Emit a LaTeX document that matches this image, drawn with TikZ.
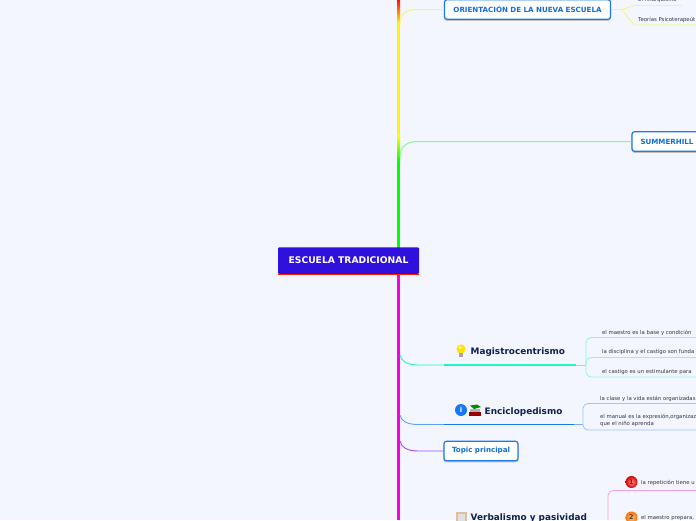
\documentclass[tikz,border=0pt]{standalone}
\usepackage{fontspec}
\setmainfont{DejaVu Sans}
\usetikzlibrary{calc}
\definecolor{bgc}{HTML}{F3F6FE}
\definecolor{rootc}{HTML}{3010DC}
\definecolor{boxb}{HTML}{1F7BE8}
\definecolor{boxt}{HTML}{0F6FD8}
\definecolor{navy}{HTML}{10204F}
\definecolor{leaf}{HTML}{333344}
\definecolor{yel}{HTML}{F2F87A}
\definecolor{grn}{HTML}{88FA88}
\definecolor{cya}{HTML}{22F5C4}
\definecolor{cyal}{HTML}{90F5E0}
\definecolor{blu}{HTML}{1878F0}
\definecolor{blul}{HTML}{A0C4FA}
\definecolor{pur}{HTML}{A050F5}
\definecolor{pnk}{HTML}{F8A0F0}
\definecolor{mag}{HTML}{F800DC}
\tikzset{
 x=1pt,y=-1pt,
 topicbox/.style={draw=boxb,line width=1.2pt,fill=white,rounded corners=2.5pt,text=boxt,font=\bfseries\fontsize{7.1}{8}\selectfont,inner sep=0pt,anchor=center,
   preaction={draw=black!25,line width=1.2pt,transform canvas={yshift=-1pt}}},
 leaftxt/.style={text=leaf,font=\fontsize{5.35}{7}\selectfont,anchor=west,inner sep=0pt,align=left},
 maintxt/.style={text=navy,font=\bfseries\fontsize{8.9}{10}\selectfont,anchor=west,inner sep=0pt},
 ball/.style={circle,minimum size=12pt,inner sep=0pt,text=black!75,font=\bfseries\fontsize{6.5}{7}\selectfont},
 thinl/.style={line width=.8pt},
}
\begin{document}
\begin{tikzpicture}
\useasboundingbox (0,0) rectangle (696,520);
\clip (0,0) rectangle (696,520);
\fill[bgc] (0,0) rectangle (696,520);

% trunk
\shade[top color=red!85!orange,bottom color=yellow!95!white] (397,0) rectangle (400.2,24);
\fill[yellow!95!white] (397,24) rectangle (400.2,135);
\shade[top color=yellow!95!white,bottom color=green] (397,135) rectangle (400.2,162);
\fill[green] (397,162) rectangle (400.2,250);
\fill[mag] (397,270) rectangle (400.2,520);

% nodes
\node[topicbox,minimum width=166pt,minimum height=19.5pt] (orient) at (527.5,9.5) {ORIENTACIÓN DE LA NUEVA ESCUELA};
\node[topicbox,minimum width=70pt,minimum height=19.5pt] (summer) at (667,141.5) {SUMMERHILL};
\node[topicbox,minimum width=74pt,minimum height=19.5pt] (topicp) at (481,451) {Topic principal};
\node[fill=rootc,text=white,font=\bfseries\fontsize{9.2}{10}\selectfont,rounded corners=1pt,minimum width=141pt,minimum height=26.5pt,inner sep=0pt] (root) at (348.5,260.5) {ESCUELA TRADICIONAL};
\draw[red!80!orange,line width=1pt] ($(root.south west)+(0,1)$) -- ($(root.south east)+(0,1)$);

% main branches
\draw[yel,line width=1pt] (400,24) .. controls (400,14) and (406,9.5) .. (418,9.5) -- (orient.west);
\draw[grn,line width=1pt] (400,157) .. controls (400,147) and (406,141.5) .. (418,141.5) -- (summer.west);

\coordinate (m0) at (444,365); \coordinate (m1) at (576,365); \coordinate (m2) at (586,365);
\draw[cya,line width=.9pt] (400,355) .. controls (401,361) and (407,365) .. (418,365) -- (m0);
\draw[cya,line width=1.3pt] (m0) -- (m1);
\draw[cya!70!white,line width=.9pt] (m1) -- (m2);
\coordinate (e0) at (444,424.5); \coordinate (e1) at (574,424.5); \coordinate (e2) at (583,424.5);
\draw[blu!70!white,line width=.9pt] (400,415) .. controls (401,421) and (407,424.5) .. (418,424.5) -- (e0);
\draw[blu,line width=1.3pt] (e0) -- (e1);
\draw[blu!60!white,line width=.9pt] (e1) -- (e2);
\draw[pur,line width=.9pt] (400,441) .. controls (401,447) and (407,451) .. (418,451) -- (topicp.west);

% yellow sub-branches
\coordinate (y0) at (622,9.5);
\coordinate (y1) at (682,5.5);
\coordinate (y2) at (696,25);
\draw[yel,thinl] (orient.east) -- (y0) -- (634,5.5) -- (y1);
\draw[yel,thinl] (y0) -- (634,25) -- (y2);
\node[leaftxt] (anar) at (638,0.5) {El Anarquismo};
\node[leaftxt] (psico) at (638,19.5) {Teorías Psicoterapeút};

% Magistrocentrismo
\coordinate (c1) at (696,337.5); \coordinate (c2) at (696,357.5); \coordinate (c3) at (696,377);
\draw[cyal,thinl,rounded corners=5pt] (c1) -- (586,337.5) -- (586,377) -- (c3);
\draw[cyal,thinl,rounded corners=5pt] (c2) -- (586,357.5) -- (586,365);
\node[leaftxt] (m1t) at (602,332.5) {el maestro es la base y condición};
\node[leaftxt] (m2t) at (602,352) {la disciplina y el castigo son funda};
\node[leaftxt] (m3t) at (602,372) {el castigo es un estimulante para};
\node[maintxt] (magi) at (470.5,351.7) {Magistrocentrismo};
% bulb
\fill[yellow!85!orange] (461,349) circle (4.6pt);
\fill[white,opacity=.7] (460,347.5) circle (1.6pt);
\fill[gray!70] (458.9,353) rectangle (463.1,357);

% Enciclopedismo
\coordinate (b1) at (696,403.5); \coordinate (b2) at (696,430);
\draw[blul,thinl,rounded corners=5pt] (b1) -- (583,403.5) -- (583,430) -- (b2);
\node[leaftxt] (e1t) at (600,398.5) {la clase y la vida están organizadas};
\node[leaftxt,anchor=north west] (e2t) at (600,414.5) {el manual es la expresión,organizaz\\que el niño aprenda};
\node[maintxt] (enci) at (484.5,411.7) {Enciclopedismo};
\node[circle,fill=blu,text=white,font=\bfseries\fontsize{7}{7}\selectfont,minimum size=12pt,inner sep=0pt] (info) at (461,410) {i};
% books
\fill[red!60!black] (469,412) rectangle (480.5,416);
\fill[gray!60!white] (469.5,409) rectangle (480,412);
\fill[green!55!black] (470,405.5) -- (477,404.5) -- (481,407) -- (474,409) -- cycle;

% Verbalismo
\coordinate (v1) at (696,490.5); \coordinate (v2) at (608,520);
\draw[pnk,thinl,rounded corners=5pt] (v1) -- (608,490.5) -- (v2);
\node[ball,shade,inner color=red!45!white,outer color=red!85!black] (n1) at (631.5,482) {1};
\node[ball,shade,inner color=orange!50!white,outer color=orange!90!red] (n2) at (631.5,517.5) {2};
\node[leaftxt] (v1t) at (641,482.5) {la repetición tiene u};
\node[leaftxt] (v2t) at (641,518.5) {el maestro prepara,};
\node[maintxt] (verb) at (470.5,518) {Verbalismo y pasividad};
% clipboard
\fill[brown!50!white] (456,512) rectangle (466.5,526);
\fill[white!88!black] (457.5,514) rectangle (465,526);
\end{tikzpicture}
\end{document}
